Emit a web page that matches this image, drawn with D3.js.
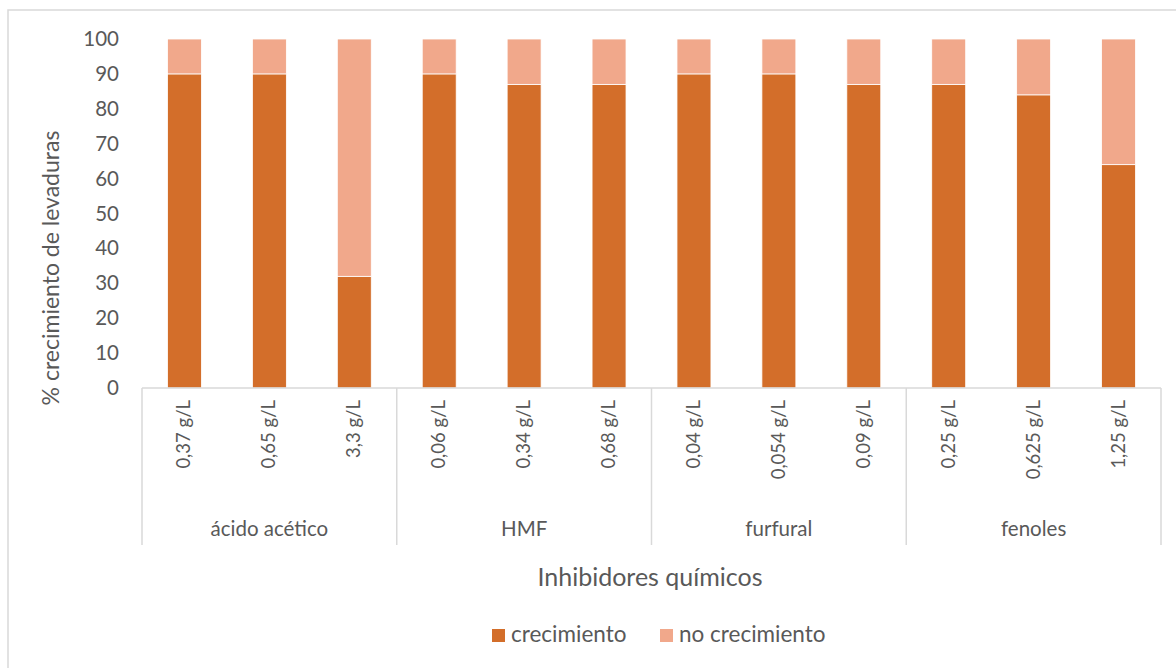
<!DOCTYPE html>
<html>
<head>
<meta charset="utf-8">
<script src="https://cdnjs.cloudflare.com/ajax/libs/d3/7.8.5/d3.min.js"></script>
<style>
  body { margin: 0; background: #fff; }
  text { font-family: Lato, "Open Sans", sans-serif; fill: #595959; }
</style>
</head>
<body>
<div id="chart"></div>
<script>
// chart data
const groups = ["ácido acético", "HMF", "furfural", "fenoles"];
const doses = [
  ["0,37 g/L", "0,65 g/L", "3,3 g/L"],
  ["0,06 g/L", "0,34 g/L", "0,68 g/L"],
  ["0,04 g/L", "0,054 g/L", "0,09 g/L"],
  ["0,25 g/L", "0,625 g/L", "1,25 g/L"]
];
const crecimiento = [90, 90, 32, 90, 87, 87, 90, 90, 87, 87, 84, 64];
const noCrecimiento = crecimiento.map(v => 100 - v);
const yTicks = [0, 10, 20, 30, 40, 50, 60, 70, 80, 90, 100];
const seriesNames = ["crecimiento", "no crecimiento"];
const colors = ["#D36E2A", "#F1A88B"];

((() => {
  let width = 1176;
  let height = 668;
  let left = 142, right = 1161, top = 39, bottom = 388;

  let svg = d3.select("#chart").append("svg")
    .attr("width", width).attr("height", height);

  // outer chart border
  svg.append("rect")
    .attr("x", 8).attr("y", 10)
    .attr("width", 1200).attr("height", 700)
    .attr("fill", "none").attr("stroke", "#d9d9d9").attr("stroke-width", 1.5);

  // one row per bar
  let rows = [];
  doses.forEach((ds, gi) => ds.forEach((d, di) => {
    let i = rows.length;
    rows.push({ key: i, group: groups[gi], dose: d, crecimiento: crecimiento[i], no: noCrecimiento[i] });
  }));

  let x = d3.scaleBand().domain(rows.map(r => r.key)).range([left, right]).paddingInner(0.6).paddingOuter(0.3);
  let y = d3.scaleLinear().domain([0, 100]).range([bottom, top]);

  let stack = d3.stack().keys(["crecimiento", "no"])(rows);

  svg.append("g").selectAll("g")
    .data(stack)
    .enter().append("g")
    .attr("fill", (d, i) => colors[i])
    .selectAll("rect")
    .data(d => d)
    .enter().append("rect")
    .attr("x", d => x(d.data.key))
    .attr("width", x.bandwidth())
    .attr("y", d => y(d[1]))
    .attr("height", d => y(d[0]) - y(d[1]))
    .attr("stroke", "#fff").attr("stroke-width", 0.8);

  // y axis labels
  let yAxis = svg.append("g")
    .attr("transform", `translate(${left},0)`)
    .call(d3.axisLeft(y).tickValues(yTicks).tickSize(0).tickPadding(23));
  yAxis.select(".domain").remove();
  yAxis.selectAll("text").style("font-size", "20.5px").style("font-family", "Lato, sans-serif").attr("fill", "#595959");

  // x axis line + group separators
  svg.append("line")
    .attr("x1", left).attr("x2", right).attr("y1", bottom).attr("y2", bottom)
    .attr("stroke", "#d9d9d9").attr("stroke-width", 1.5);

  let groupSize = 3;
  let step = x.step();
  let bounds = d3.range(groups.length + 1).map(g => left + g * groupSize * step);
  svg.selectAll("line.sep").data(bounds).enter().append("line")
    .attr("class", "sep")
    .attr("x1", d => d).attr("x2", d => d)
    .attr("y1", bottom).attr("y2", 545)
    .attr("stroke", "#d9d9d9").attr("stroke-width", 1.5);

  // dose labels (rotated)
  svg.selectAll("text.dose").data(rows).enter().append("text")
    .attr("class", "dose")
    .attr("transform", d => `translate(${x(d.key) + x.bandwidth() / 2 + 6},400) rotate(-90)`)
    .attr("text-anchor", "end")
    .style("font-size", "18.5px")
    .text(d => d.dose);

  // group labels
  svg.selectAll("text.group").data(groups).enter().append("text")
    .attr("class", "group")
    .attr("x", (d, i) => (bounds[i] + bounds[i + 1]) / 2)
    .attr("y", 536)
    .attr("text-anchor", "middle")
    .style("font-size", "20.5px")
    .text(d => d);

  // axis titles
  svg.append("text")
    .attr("transform", "translate(59,268) rotate(-90)")
    .attr("text-anchor", "middle")
    .style("font-size", "23px")
    .text("% crecimiento de levaduras");

  svg.append("text")
    .attr("x", 650).attr("y", 586)
    .attr("text-anchor", "middle")
    .style("font-size", "25px")
    .text("Inhibidores químicos");

  // legend
  let legend = svg.append("g").attr("class", "legend").attr("transform", "translate(492,636)");
  let legendX = [0, 168];
  seriesNames.forEach((name, i) => {
    legend.append("rect").attr("x", legendX[i]).attr("y", -7).attr("width", 13).attr("height", 13).attr("fill", colors[i]);
    legend.append("text").attr("x", legendX[i] + 19).attr("y", 0).attr("dominant-baseline", "middle")
      .style("font-size", "22.5px").text(name);
  });
})());
</script>
</body>
</html>
